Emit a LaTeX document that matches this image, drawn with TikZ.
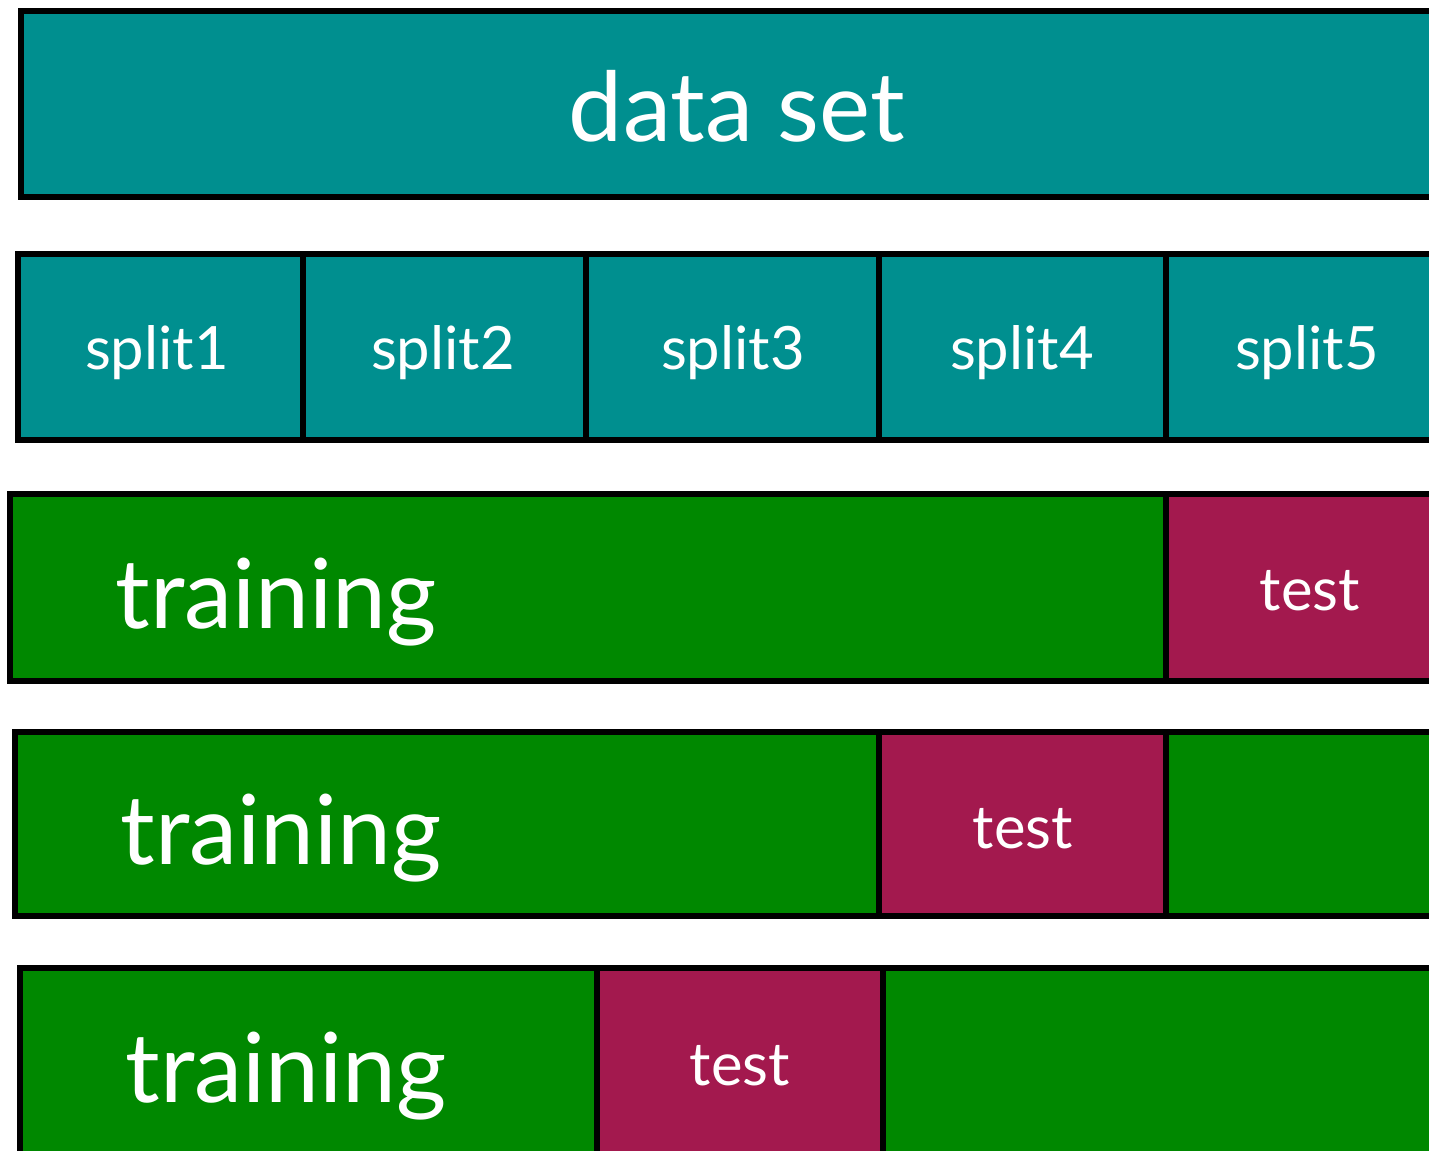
\documentclass[tikz,border=0pt]{standalone}
\usepackage{fontspec}
\setmainfont{Lato}

\definecolor{setteal}{RGB}{0,143,143}
\definecolor{traingreen}{RGB}{0,136,0}
\definecolor{testred}{RGB}{163,25,78}

\begin{document}
\begin{tikzpicture}[x=0.02cm, y=-0.02cm,
  cell/.style={draw=black, line width=0.12cm},
  label/.style={text=white, inner sep=0pt},
  bigfont/.style={font=\fontsize{55}{60}\selectfont},
  smallfont/.style={font=\fontsize{34}{40}\selectfont}]
  \useasboundingbox (0,0) rectangle (1429,1151);
  \clip (0,0) rectangle (1429,1151);

  % Whole data set
  \draw[cell, fill=setteal] (21,11) rectangle (1480,197);
  \node[label, bigfont, anchor=base] (dataset) at (737,142) {data set};

  % Five splits
  \draw[cell, fill=setteal] (18,254) rectangle (1480,440);
  \foreach \x in {303,586,879,1166}
  {
    \draw[cell] (\x,254) -- (\x,440);
  }
  \foreach \x/\n in {157/1, 443/2, 733/3, 1022/4, 1307/5}
  {
    \node[label, smallfont, anchor=base] (split\n) at (\x,370) {split\n};
  }

  % Folds: training part and held-out test split
  \foreach \l/\t/\b/\a/\c in {10/494/681/1166/1480, 15/732/916/879/1166, 20/968/1200/597/883}
  {
    \draw[cell, fill=traingreen] (\l,\t) rectangle (1480,\b);
    \draw[cell, fill=testred] (\a,\t) rectangle (\c,\b);
  }

  \node[label, bigfont, anchor=base west] (train1) at (115,628) {training};
  \node[label, bigfont, anchor=base west] (train2) at (120,864) {training};
  \node[label, bigfont, anchor=base west] (train3) at (125,1102) {training};

  \node[label, smallfont, anchor=base] (test1) at (1310,610) {test};
  \node[label, smallfont, anchor=base] (test2) at (1023,848) {test};
  \node[label, smallfont, anchor=base] (test3) at (740,1085) {test};
\end{tikzpicture}
\end{document}
